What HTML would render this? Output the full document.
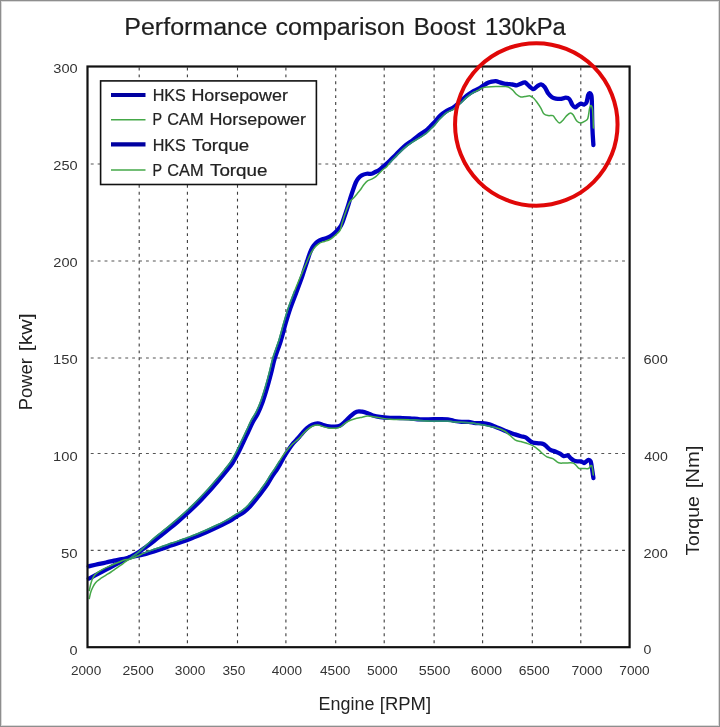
<!DOCTYPE html>
<html><head><meta charset="utf-8"><style>
html,body{margin:0;padding:0;background:#fff;}
body{width:720px;height:727px;overflow:hidden;}
svg{display:block;will-change:transform;}
text{font-family:"Liberation Sans",sans-serif;}
</style></head><body>
<svg width="720" height="727" viewBox="0 0 720 727">
<rect x="0" y="0" width="720" height="727" fill="#fff"/>
<rect x="0.5" y="0.5" width="719" height="726" fill="none" stroke="#8e8e8e" stroke-width="1"/>
<rect x="1.5" y="1.5" width="717" height="724" fill="none" stroke="#dadada" stroke-width="1"/>
<g stroke="#3a3a3a" stroke-width="1.1" stroke-dasharray="2.9,4.0" fill="none">
<line x1="139.2" y1="66.5" x2="139.2" y2="647.2" stroke="#3c3c3c" stroke-width="1.1" stroke-dashoffset="5.87"/>
<line x1="187.4" y1="66.5" x2="187.4" y2="647.2" stroke="#3c3c3c" stroke-width="1.1" stroke-dashoffset="5.87"/>
<line x1="237.5" y1="66.5" x2="237.5" y2="647.2" stroke="#3c3c3c" stroke-width="1.1" stroke-dashoffset="5.87"/>
<line x1="285.9" y1="66.5" x2="285.9" y2="647.2" stroke="#3c3c3c" stroke-width="1.1" stroke-dashoffset="5.87"/>
<line x1="335.7" y1="66.5" x2="335.7" y2="647.2" stroke="#3c3c3c" stroke-width="1.1" stroke-dashoffset="5.87"/>
<line x1="384.2" y1="66.5" x2="384.2" y2="647.2" stroke="#3c3c3c" stroke-width="1.1" stroke-dashoffset="5.87"/>
<line x1="434.1" y1="66.5" x2="434.1" y2="647.2" stroke="#3c3c3c" stroke-width="1.1" stroke-dashoffset="5.87"/>
<line x1="482.6" y1="66.5" x2="482.6" y2="647.2" stroke="#3c3c3c" stroke-width="1.1" stroke-dashoffset="5.87"/>
<line x1="532.3" y1="66.5" x2="532.3" y2="647.2" stroke="#3c3c3c" stroke-width="1.1" stroke-dashoffset="5.87"/>
<line x1="580.8" y1="66.5" x2="580.8" y2="647.2" stroke="#3c3c3c" stroke-width="1.1" stroke-dashoffset="5.87"/>
<line x1="87.5" y1="163.95" x2="629.6" y2="163.95" stroke="#555" stroke-width="1.15" stroke-dashoffset="3.65"/>
<line x1="87.5" y1="260.95" x2="629.6" y2="260.95" stroke="#555" stroke-width="1.15" stroke-dashoffset="3.65"/>
<line x1="87.5" y1="358.0" x2="629.6" y2="358.0" stroke="#555" stroke-width="1.15" stroke-dashoffset="3.65"/>
<line x1="87.5" y1="453.5" x2="629.6" y2="453.5" stroke="#555" stroke-width="1.15" stroke-dashoffset="3.65"/>
<line x1="87.5" y1="550.4" x2="629.6" y2="550.4" stroke="#555" stroke-width="1.15" stroke-dashoffset="3.65"/>
</g>
<g fill="none" stroke-linejoin="round" stroke-linecap="round">
<path d="M88.80,578.60 C89.08,578.47 88.97,578.58 90.50,577.80 C92.03,577.02 95.42,575.25 98.00,573.90 C100.58,572.55 103.33,571.12 106.00,569.70 C108.67,568.28 111.33,566.82 114.00,565.40 C116.67,563.98 119.33,562.60 122.00,561.20 C124.67,559.80 127.33,558.43 130.00,557.00 C132.67,555.57 135.33,554.27 138.00,552.60 C140.67,550.93 143.33,548.93 146.00,547.00 C148.67,545.07 151.33,543.07 154.00,541.00 C156.67,538.93 159.33,536.73 162.00,534.60 C164.67,532.47 167.33,530.38 170.00,528.20 C172.67,526.02 175.33,523.78 178.00,521.50 C180.67,519.22 183.33,516.92 186.00,514.50 C188.67,512.08 191.33,509.60 194.00,507.00 C196.67,504.40 199.33,501.67 202.00,498.90 C204.67,496.13 207.33,493.35 210.00,490.40 C212.67,487.45 215.33,484.35 218.00,481.20 C220.67,478.05 223.58,474.53 226.00,471.50 C228.42,468.47 230.50,466.05 232.50,463.00 C234.50,459.95 236.27,456.53 238.00,453.20 C239.73,449.87 241.25,446.45 242.90,443.00 C244.55,439.55 246.25,436.00 247.90,432.50 C249.55,429.00 251.15,425.17 252.80,422.00 C254.45,418.83 256.17,416.83 257.80,413.50 C259.43,410.17 261.03,406.33 262.60,402.00 C264.17,397.67 265.80,392.25 267.20,387.50 C268.60,382.75 269.77,378.25 271.00,373.50 C272.23,368.75 272.97,364.45 274.60,359.00 C276.23,353.55 278.97,346.72 280.80,340.80 C282.63,334.88 284.00,328.95 285.60,323.50 C287.20,318.05 288.63,313.23 290.40,308.10 C292.17,302.97 294.28,297.83 296.20,292.70 C298.12,287.57 300.56,281.08 301.90,277.30 C303.24,273.52 303.40,272.60 304.25,270.00 C305.10,267.40 306.07,264.48 307.00,261.70 C307.93,258.92 308.87,255.73 309.80,253.30 C310.73,250.87 311.67,248.72 312.60,247.10 C313.53,245.48 314.37,244.65 315.40,243.60 C316.43,242.55 317.65,241.50 318.80,240.80 C319.95,240.10 321.13,239.80 322.30,239.40 C323.47,239.00 324.64,238.80 325.80,238.40 C326.96,238.00 328.10,237.63 329.25,237.00 C330.40,236.37 331.54,235.52 332.70,234.60 C333.86,233.68 335.03,232.67 336.20,231.50 C337.37,230.33 338.73,228.93 339.70,227.60 C340.67,226.27 341.12,225.60 342.00,223.50 C342.88,221.40 343.95,218.08 345.00,215.00 C346.05,211.92 347.33,208.05 348.30,205.00 C349.27,201.95 349.97,199.33 350.80,196.70 C351.63,194.07 352.47,191.57 353.30,189.20 C354.13,186.83 354.97,184.32 355.80,182.50 C356.63,180.68 357.32,179.48 358.30,178.30 C359.28,177.12 360.30,176.16 361.70,175.40 C363.10,174.64 365.03,174.03 366.70,173.75 C368.37,173.47 370.18,174.09 371.70,173.75 C373.22,173.41 374.55,172.32 375.80,171.70 C377.05,171.07 377.95,170.87 379.20,170.00 C380.45,169.13 382.05,167.57 383.30,166.50 C384.55,165.43 385.58,164.58 386.70,163.60 C387.82,162.62 388.40,162.17 390.00,160.60 C391.60,159.03 393.92,156.58 396.30,154.20 C398.68,151.82 401.57,148.65 404.30,146.30 C407.03,143.95 409.92,142.18 412.70,140.10 C415.48,138.02 418.82,135.38 421.00,133.80 C423.18,132.22 424.30,131.78 425.80,130.60 C427.30,129.42 428.47,128.18 430.00,126.70 C431.53,125.22 433.33,123.52 435.00,121.70 C436.67,119.88 438.05,117.62 440.00,115.80 C441.95,113.98 444.48,112.18 446.70,110.80 C448.92,109.42 451.08,109.00 453.30,107.50 C455.52,106.00 457.77,103.78 460.00,101.80 C462.23,99.82 464.70,97.23 466.70,95.60 C468.70,93.97 470.62,92.87 472.00,92.00 C473.38,91.13 473.80,91.00 475.00,90.40 C476.20,89.80 477.82,89.20 479.20,88.40 C480.58,87.60 481.92,86.50 483.30,85.60 C484.68,84.70 486.10,83.65 487.50,83.00 C488.90,82.35 490.32,82.00 491.70,81.70 C493.08,81.40 494.42,81.08 495.80,81.20 C497.18,81.32 498.60,81.98 500.00,82.40 C501.40,82.82 502.82,83.42 504.20,83.70 C505.58,83.98 506.92,83.97 508.30,84.10 C509.68,84.23 511.10,84.30 512.50,84.50 C513.90,84.70 515.32,85.43 516.70,85.30 C518.08,85.17 519.42,84.18 520.80,83.70 C522.18,83.22 523.60,81.98 525.00,82.40 C526.40,82.82 527.82,85.07 529.20,86.20 C530.58,87.33 531.95,89.18 533.30,89.20 C534.65,89.22 536.02,87.10 537.30,86.30 C538.58,85.50 539.77,84.25 541.00,84.40 C542.23,84.55 543.48,85.67 544.70,87.20 C545.92,88.73 547.08,91.92 548.30,93.60 C549.52,95.28 550.77,96.47 552.00,97.30 C553.23,98.13 554.17,98.33 555.70,98.60 C557.23,98.87 559.52,99.05 561.20,98.90 C562.88,98.75 564.43,97.67 565.80,97.70 C567.17,97.73 568.33,97.95 569.40,99.10 C570.47,100.25 571.27,103.22 572.20,104.60 C573.13,105.98 574.08,107.25 575.00,107.40 C575.92,107.55 576.72,106.12 577.70,105.50 C578.68,104.88 579.83,103.85 580.90,103.70 C581.97,103.55 583.17,104.80 584.10,104.60 C585.03,104.40 585.82,104.10 586.50,102.50 C587.18,100.90 587.68,96.55 588.20,95.00 C588.72,93.45 589.13,93.28 589.60,93.20 C590.07,93.12 590.63,93.37 591.00,94.50 C591.37,95.63 591.57,94.42 591.80,100.00 C592.03,105.58 592.13,120.50 592.40,128.00 C592.67,135.50 593.23,142.17 593.40,145.00" stroke="#0000c2" stroke-width="4.3"/>
<path d="M88.80,566.40 C89.08,566.32 88.97,566.27 90.50,565.90 C92.03,565.53 95.42,564.77 98.00,564.20 C100.58,563.63 103.33,563.08 106.00,562.50 C108.67,561.92 111.33,561.25 114.00,560.70 C116.67,560.15 119.33,559.75 122.00,559.20 C124.67,558.65 127.33,558.00 130.00,557.40 C132.67,556.80 135.33,556.20 138.00,555.60 C140.67,555.00 143.33,554.48 146.00,553.80 C148.67,553.12 151.33,552.33 154.00,551.50 C156.67,550.67 159.33,549.75 162.00,548.80 C164.67,547.85 167.33,546.73 170.00,545.80 C172.67,544.87 175.33,544.10 178.00,543.20 C180.67,542.30 183.33,541.38 186.00,540.40 C188.67,539.42 191.33,538.35 194.00,537.30 C196.67,536.25 199.33,535.22 202.00,534.10 C204.67,532.98 207.33,531.80 210.00,530.60 C212.67,529.40 215.33,528.18 218.00,526.90 C220.67,525.62 223.67,524.12 226.00,522.90 C228.33,521.68 230.08,520.75 232.00,519.60 C233.92,518.45 235.50,517.27 237.50,516.00 C239.50,514.73 241.92,513.58 244.00,512.00 C246.08,510.42 247.68,509.00 250.00,506.50 C252.32,504.00 255.78,499.63 257.90,497.00 C260.02,494.37 261.10,492.87 262.70,490.70 C264.30,488.53 265.90,486.42 267.50,484.00 C269.10,481.58 270.68,478.70 272.30,476.20 C273.92,473.70 275.75,471.28 277.20,469.00 C278.65,466.72 279.72,464.75 281.00,462.50 C282.28,460.25 283.62,457.67 284.90,455.50 C286.18,453.33 287.30,451.55 288.70,449.50 C290.10,447.45 291.68,445.15 293.30,443.20 C294.92,441.25 296.92,439.47 298.40,437.80 C299.88,436.13 300.82,434.75 302.20,433.20 C303.58,431.65 305.03,429.93 306.70,428.50 C308.37,427.07 310.35,425.47 312.20,424.60 C314.05,423.73 315.95,423.23 317.80,423.30 C319.65,423.37 321.45,424.48 323.30,425.00 C325.15,425.52 327.05,426.12 328.90,426.40 C330.75,426.68 332.55,426.83 334.40,426.70 C336.25,426.57 338.13,426.53 340.00,425.60 C341.87,424.67 343.75,422.77 345.60,421.10 C347.45,419.43 349.25,417.17 351.10,415.60 C352.95,414.03 354.85,412.35 356.70,411.70 C358.55,411.05 360.35,411.43 362.20,411.70 C364.05,411.97 366.00,412.67 367.80,413.30 C369.60,413.93 370.97,414.88 373.00,415.50 C375.03,416.12 377.17,416.62 380.00,417.00 C382.83,417.38 386.67,417.63 390.00,417.80 C393.33,417.97 396.67,417.92 400.00,418.00 C403.33,418.08 406.67,418.08 410.00,418.30 C413.33,418.52 416.02,419.15 420.00,419.30 C423.98,419.45 429.27,419.20 433.90,419.20 C438.53,419.20 444.33,419.00 447.80,419.30 C451.27,419.60 452.38,420.57 454.70,421.00 C457.02,421.43 459.38,421.75 461.70,421.90 C464.02,422.05 466.28,421.70 468.60,421.90 C470.92,422.10 473.28,422.90 475.60,423.10 C477.92,423.30 480.20,422.88 482.50,423.10 C484.80,423.32 487.08,423.72 489.40,424.40 C491.72,425.08 494.08,426.27 496.40,427.20 C498.72,428.13 500.98,429.07 503.30,430.00 C505.62,430.93 508.35,432.07 510.30,432.80 C512.25,433.53 513.23,433.83 515.00,434.40 C516.77,434.97 519.13,435.70 520.90,436.20 C522.67,436.70 524.22,436.72 525.60,437.40 C526.98,438.08 528.02,439.45 529.20,440.30 C530.38,441.15 531.13,442.00 532.70,442.50 C534.27,443.00 536.83,443.07 538.60,443.30 C540.37,443.53 541.92,443.32 543.30,443.90 C544.68,444.48 545.72,445.82 546.90,446.80 C548.08,447.78 548.83,448.95 550.40,449.80 C551.97,450.65 554.70,451.27 556.30,451.90 C557.90,452.53 558.77,452.90 560.00,453.60 C561.23,454.30 562.37,455.78 563.70,456.10 C565.03,456.42 566.87,455.18 568.00,455.50 C569.13,455.82 569.57,457.18 570.50,458.00 C571.43,458.82 572.47,459.83 573.60,460.40 C574.73,460.97 576.07,461.23 577.30,461.40 C578.53,461.57 579.87,461.13 581.00,461.40 C582.13,461.67 583.27,462.95 584.10,463.00 C584.93,463.05 585.27,462.23 586.00,461.70 C586.73,461.17 587.73,459.88 588.50,459.80 C589.27,459.72 590.08,460.17 590.60,461.20 C591.12,462.23 591.13,463.20 591.60,466.00 C592.07,468.80 593.10,476.00 593.40,478.00" stroke="#0000c2" stroke-width="4.3"/>
<path d="M89.30,598.50 C89.50,597.58 90.05,594.58 90.50,593.00 C90.95,591.42 91.37,590.42 92.00,589.00 C92.63,587.58 93.47,585.80 94.30,584.50 C95.13,583.20 95.88,582.25 97.00,581.20 C98.12,580.15 99.50,579.22 101.00,578.20 C102.50,577.18 104.33,576.13 106.00,575.10 C107.67,574.07 109.50,572.98 111.00,572.00 C112.50,571.02 113.62,570.17 115.00,569.20 C116.38,568.23 117.97,567.13 119.30,566.20 C120.63,565.27 121.26,564.87 123.00,563.60 C124.74,562.33 127.35,560.31 129.73,558.57 C132.12,556.83 134.78,555.16 137.31,553.15 C139.83,551.15 142.36,548.81 144.88,546.54 C147.40,544.27 149.87,541.78 152.45,539.53 C155.04,537.27 157.74,535.15 160.40,533.00 C163.06,530.85 165.73,528.78 168.40,526.60 C171.07,524.42 173.73,522.18 176.40,519.90 C179.07,517.62 181.73,515.32 184.40,512.90 C187.07,510.48 189.73,508.00 192.40,505.40 C195.07,502.80 197.73,500.07 200.40,497.30 C203.07,494.53 205.73,491.75 208.40,488.80 C211.07,485.85 213.73,482.75 216.40,479.60 C219.07,476.45 221.98,472.93 224.40,469.90 C226.82,466.87 228.90,464.45 230.90,461.40 C232.90,458.35 234.67,454.93 236.40,451.60 C238.13,448.27 239.65,444.85 241.30,441.40 C242.95,437.95 244.65,434.40 246.30,430.90 C247.95,427.40 249.55,423.57 251.20,420.40 C252.85,417.23 254.57,415.23 256.20,411.90 C257.83,408.57 259.43,404.73 261.00,400.40 C262.57,396.07 264.20,390.65 265.60,385.90 C267.00,381.15 268.17,376.65 269.40,371.90 C270.63,367.15 271.37,362.85 273.00,357.40 C274.63,351.95 277.37,345.12 279.20,339.20 C281.03,333.28 282.40,327.35 284.00,321.90 C285.60,316.45 287.03,311.63 288.80,306.50 C290.57,301.37 292.63,296.13 294.60,291.10 C296.57,286.07 299.17,279.89 300.63,276.35 C302.10,272.81 302.39,272.16 303.39,269.85 C304.39,267.54 305.54,264.96 306.62,262.49 C307.71,260.02 308.84,257.20 309.91,255.05 C310.99,252.90 312.10,251.09 313.10,249.60 C314.10,248.11 314.87,247.15 315.90,246.10 C316.93,245.05 318.15,244.00 319.30,243.30 C320.45,242.60 321.63,242.30 322.80,241.90 C323.97,241.50 325.14,241.30 326.30,240.90 C327.46,240.50 328.60,240.13 329.75,239.50 C330.90,238.87 332.04,238.02 333.20,237.10 C334.36,236.18 335.53,235.17 336.70,234.00 C337.87,232.83 339.32,231.85 340.20,230.10 C341.08,228.35 341.07,226.57 342.00,223.50 C342.93,220.43 344.47,215.33 345.80,211.70 C347.13,208.07 348.75,203.93 350.00,201.70 C351.25,199.47 352.05,199.70 353.30,198.30 C354.55,196.90 356.25,194.82 357.50,193.30 C358.75,191.78 359.68,190.72 360.80,189.20 C361.92,187.68 363.08,185.60 364.20,184.20 C365.32,182.80 366.25,181.63 367.50,180.80 C368.75,179.97 370.32,179.88 371.70,179.20 C373.08,178.52 374.55,177.68 375.80,176.70 C377.05,175.72 377.95,174.55 379.20,173.30 C380.45,172.05 382.05,170.30 383.30,169.20 C384.55,168.10 385.58,167.83 386.70,166.70 C387.82,165.57 388.40,164.18 390.00,162.40 C391.60,160.62 393.92,158.38 396.30,156.00 C398.68,153.62 401.57,150.45 404.30,148.10 C407.03,145.75 409.92,143.78 412.70,141.90 C415.48,140.02 418.82,138.18 421.00,136.80 C423.18,135.42 424.30,134.78 425.80,133.60 C427.30,132.42 428.47,131.18 430.00,129.70 C431.53,128.22 433.33,126.52 435.00,124.70 C436.67,122.88 438.05,120.82 440.00,118.80 C441.95,116.78 444.48,114.18 446.70,112.60 C448.92,111.02 451.08,110.80 453.30,109.30 C455.52,107.80 457.77,105.58 460.00,103.60 C462.23,101.62 464.70,99.10 466.70,97.40 C468.70,95.70 470.62,94.33 472.00,93.40 C473.38,92.47 473.80,92.40 475.00,91.80 C476.20,91.20 478.45,90.20 479.20,89.80 C479.95,89.40 478.82,89.77 479.50,89.40 C480.18,89.03 481.97,88.00 483.30,87.60 C484.63,87.20 485.42,87.17 487.50,87.00 C489.58,86.83 493.02,86.67 495.80,86.60 C498.58,86.53 502.12,86.53 504.20,86.60 C506.28,86.67 506.92,86.45 508.30,87.00 C509.68,87.55 511.10,88.65 512.50,89.90 C513.90,91.15 515.32,93.32 516.70,94.50 C518.08,95.68 519.42,96.65 520.80,97.00 C522.18,97.35 523.47,96.78 525.00,96.60 C526.53,96.42 528.55,95.63 530.00,95.90 C531.45,96.17 532.48,97.05 533.70,98.20 C534.92,99.35 536.08,101.12 537.30,102.80 C538.52,104.48 539.92,106.47 541.00,108.30 C542.08,110.13 542.58,112.58 543.80,113.80 C545.02,115.02 546.78,115.30 548.30,115.60 C549.82,115.90 551.67,114.98 552.90,115.60 C554.13,116.22 554.62,118.07 555.70,119.30 C556.78,120.53 558.18,122.85 559.40,123.00 C560.62,123.15 561.78,121.43 563.00,120.20 C564.22,118.97 565.47,116.82 566.70,115.60 C567.93,114.38 569.33,113.05 570.40,112.90 C571.47,112.75 572.03,113.33 573.10,114.70 C574.17,116.07 575.57,119.72 576.80,121.10 C578.03,122.48 579.13,123.00 580.50,123.00 C581.87,123.00 583.78,121.87 585.00,121.10 C586.22,120.33 587.03,120.53 587.80,118.40 C588.57,116.27 589.07,110.45 589.60,108.30 C590.13,106.15 590.50,105.22 591.00,105.50 C591.50,105.78 592.20,106.25 592.60,110.00 C593.00,113.75 593.27,125.00 593.40,128.00" stroke="#45a848" stroke-width="1.5"/>
<path d="M89.30,590.50 C89.50,589.58 90.05,586.75 90.50,585.00 C90.95,583.25 91.37,581.58 92.00,580.00 C92.63,578.42 93.47,576.70 94.30,575.50 C95.13,574.30 95.60,573.83 97.00,572.80 C98.40,571.77 100.37,570.52 102.70,569.30 C105.03,568.08 108.23,566.72 111.00,565.50 C113.77,564.28 116.97,562.95 119.30,562.00 C121.63,561.05 123.22,560.27 125.00,559.80 C126.78,559.33 127.94,559.83 130.00,559.20 C132.06,558.57 134.91,557.09 137.36,556.04 C139.81,554.99 142.21,553.90 144.72,552.88 C147.23,551.86 149.79,550.85 152.40,549.90 C155.01,548.95 157.73,548.15 160.40,547.20 C163.07,546.25 165.73,545.13 168.40,544.20 C171.07,543.27 173.73,542.50 176.40,541.60 C179.07,540.70 181.73,539.78 184.40,538.80 C187.07,537.82 189.73,536.75 192.40,535.70 C195.07,534.65 197.73,533.62 200.40,532.50 C203.07,531.38 205.73,530.20 208.40,529.00 C211.07,527.80 213.73,526.58 216.40,525.30 C219.07,524.02 222.07,522.52 224.40,521.30 C226.73,520.08 228.48,519.15 230.40,518.00 C232.32,516.85 233.90,515.67 235.90,514.40 C237.90,513.13 240.32,511.98 242.40,510.40 C244.48,508.82 246.08,507.40 248.40,504.90 C250.72,502.40 254.18,498.03 256.30,495.40 C258.42,492.77 259.50,491.27 261.10,489.10 C262.70,486.93 264.30,484.82 265.90,482.40 C267.50,479.98 269.08,477.10 270.70,474.60 C272.32,472.10 274.14,469.66 275.60,467.40 C277.06,465.14 278.13,463.18 279.48,461.06 C280.83,458.94 282.31,456.65 283.69,454.68 C285.08,452.72 286.28,451.12 287.80,449.29 C289.31,447.47 291.02,445.42 292.76,443.73 C294.51,442.04 296.70,440.63 298.27,439.14 C299.84,437.66 300.80,436.31 302.20,434.80 C303.60,433.29 305.03,431.53 306.70,430.10 C308.37,428.67 310.35,427.07 312.20,426.20 C314.05,425.33 315.95,424.83 317.80,424.90 C319.65,424.97 321.45,426.08 323.30,426.60 C325.15,427.12 327.05,427.72 328.90,428.00 C330.75,428.28 332.55,428.43 334.40,428.30 C336.25,428.17 338.13,428.12 340.00,427.20 C341.87,426.28 343.75,424.00 345.60,422.80 C347.45,421.60 349.25,420.75 351.10,420.00 C352.95,419.25 354.85,418.77 356.70,418.30 C358.55,417.83 360.35,417.57 362.20,417.20 C364.05,416.83 365.17,416.05 367.80,416.10 C370.43,416.15 374.30,416.97 378.00,417.50 C381.70,418.03 384.67,418.92 390.00,419.30 C395.33,419.68 403.17,419.48 410.00,419.80 C416.83,420.12 424.70,420.95 431.00,421.20 C437.30,421.45 443.80,421.17 447.80,421.30 C451.80,421.43 450.47,421.63 455.00,422.00 C459.53,422.37 468.33,422.58 475.00,423.50 C481.67,424.42 490.00,426.21 495.00,427.50 C500.00,428.79 501.67,429.20 505.00,431.25 C508.33,433.30 512.35,438.09 515.00,439.80 C517.65,441.51 518.93,440.92 520.90,441.50 C522.87,442.08 524.83,442.60 526.80,443.30 C528.77,444.00 530.73,444.62 532.70,445.70 C534.67,446.78 537.02,448.53 538.60,449.80 C540.18,451.07 540.82,452.12 542.20,453.30 C543.58,454.48 545.13,456.02 546.90,456.90 C548.67,457.78 550.83,457.62 552.80,458.60 C554.77,459.58 556.73,462.07 558.70,462.80 C560.67,463.53 562.23,462.97 564.60,463.00 C566.97,463.03 570.93,462.55 572.90,463.00 C574.87,463.45 575.33,464.78 576.40,465.70 C577.47,466.62 578.12,468.03 579.30,468.50 C580.48,468.97 581.97,468.50 583.50,468.50 C585.03,468.50 587.25,469.00 588.50,468.50 C589.75,468.00 590.38,465.75 591.00,465.50 C591.62,465.25 591.82,465.42 592.20,467.00 C592.58,468.58 593.12,473.67 593.30,475.00" stroke="#45a848" stroke-width="1.5"/>
<path d="M129.73,558.57 C131.00,557.66 134.78,555.16 137.31,553.15 C139.83,551.15 142.36,548.81 144.88,546.54 C147.40,544.27 149.87,541.78 152.45,539.53 C155.04,537.27 157.74,535.15 160.40,533.00 C163.06,530.85 165.73,528.78 168.40,526.60 C171.07,524.42 173.73,522.18 176.40,519.90 C179.07,517.62 181.73,515.32 184.40,512.90 C187.07,510.48 189.73,508.00 192.40,505.40 C195.07,502.80 197.73,500.07 200.40,497.30 C203.07,494.53 205.73,491.75 208.40,488.80 C211.07,485.85 213.73,482.75 216.40,479.60 C219.07,476.45 221.98,472.93 224.40,469.90 C226.82,466.87 228.90,464.45 230.90,461.40 C232.90,458.35 234.67,454.93 236.40,451.60 C238.13,448.27 239.65,444.85 241.30,441.40 C242.95,437.95 244.65,434.40 246.30,430.90 C247.95,427.40 249.55,423.57 251.20,420.40 C252.85,417.23 254.57,415.23 256.20,411.90 C257.83,408.57 259.43,404.73 261.00,400.40 C262.57,396.07 264.20,390.65 265.60,385.90 C267.00,381.15 268.17,376.65 269.40,371.90 C270.63,367.15 271.37,362.85 273.00,357.40 C274.63,351.95 277.37,345.12 279.20,339.20 C281.03,333.28 282.40,327.35 284.00,321.90 C285.60,316.45 287.03,311.63 288.80,306.50 C290.57,301.37 293.63,293.67 294.60,291.10" stroke="#2a8a78" stroke-width="1.5"/>
<path d="M144.72,552.88 C146.00,552.38 149.79,550.85 152.40,549.90 C155.01,548.95 157.73,548.15 160.40,547.20 C163.07,546.25 165.73,545.13 168.40,544.20 C171.07,543.27 173.73,542.50 176.40,541.60 C179.07,540.70 181.73,539.78 184.40,538.80 C187.07,537.82 189.73,536.75 192.40,535.70 C195.07,534.65 197.73,533.62 200.40,532.50 C203.07,531.38 205.73,530.20 208.40,529.00 C211.07,527.80 213.73,526.58 216.40,525.30 C219.07,524.02 222.07,522.52 224.40,521.30 C226.73,520.08 228.48,519.15 230.40,518.00 C232.32,516.85 233.90,515.67 235.90,514.40 C237.90,513.13 240.32,511.98 242.40,510.40 C244.48,508.82 246.08,507.40 248.40,504.90 C250.72,502.40 254.18,498.03 256.30,495.40 C258.42,492.77 259.50,491.27 261.10,489.10 C262.70,486.93 264.30,484.82 265.90,482.40 C267.50,479.98 269.08,477.10 270.70,474.60 C272.32,472.10 274.14,469.66 275.60,467.40 C277.06,465.14 278.83,462.12 279.48,461.06" stroke="#2a8a78" stroke-width="1.5"/>
<path d="M410.00,419.80 C413.50,420.03 424.70,420.95 431.00,421.20 C437.30,421.45 443.80,421.17 447.80,421.30 C451.80,421.43 450.47,421.63 455.00,422.00 C459.53,422.37 468.33,422.58 475.00,423.50 C481.67,424.42 491.67,426.83 495.00,427.50" stroke="#2a8a78" stroke-width="1.5"/>
<path d="M390.00,162.40 C391.05,161.33 393.92,158.38 396.30,156.00 C398.68,153.62 401.57,150.45 404.30,148.10 C407.03,145.75 409.92,143.78 412.70,141.90 C415.48,140.02 418.82,138.18 421.00,136.80 C423.18,135.42 424.30,134.78 425.80,133.60 C427.30,132.42 428.47,131.18 430.00,129.70 C431.53,128.22 433.33,126.52 435.00,124.70 C436.67,122.88 438.05,120.82 440.00,118.80 C441.95,116.78 444.48,114.18 446.70,112.60 C448.92,111.02 451.08,110.80 453.30,109.30 C455.52,107.80 457.77,105.58 460.00,103.60 C462.23,101.62 464.70,99.10 466.70,97.40 C468.70,95.70 470.62,94.33 472.00,93.40 C473.38,92.47 474.50,92.07 475.00,91.80" stroke="#2a8a78" stroke-width="1.5"/>
</g>
<rect x="87.5" y="66.5" width="542.1" height="580.7" fill="none" stroke="#111" stroke-width="2.2"/>
<rect x="100.6" y="80.9" width="215.8" height="103.6" fill="#fff" stroke="#111" stroke-width="1.6"/>
<line x1="111" y1="95" x2="145.5" y2="95" stroke="#0000a0" stroke-width="4.2"/>
<line x1="111" y1="119.8" x2="145.5" y2="119.8" stroke="#45a848" stroke-width="1.5"/>
<line x1="111" y1="144.4" x2="145.5" y2="144.4" stroke="#0000a0" stroke-width="4.2"/>
<line x1="111" y1="170" x2="145.5" y2="170" stroke="#45a848" stroke-width="1.5"/>
<text x="124.31" y="34.5" textLength="143.08" lengthAdjust="spacingAndGlyphs" style="font-size:23.0px" fill="#1e1e1e" stroke="#1e1e1e" stroke-width="0.2">Performance</text>
<text x="275.51" y="34.5" textLength="129.32" lengthAdjust="spacingAndGlyphs" style="font-size:23.0px" fill="#1e1e1e" stroke="#1e1e1e" stroke-width="0.2">comparison</text>
<text x="413.78" y="34.5" textLength="61.71" lengthAdjust="spacingAndGlyphs" style="font-size:23.0px" fill="#1e1e1e" stroke="#1e1e1e" stroke-width="0.2">Boost</text>
<text x="484.99" y="34.5" textLength="80.84" lengthAdjust="spacingAndGlyphs" style="font-size:23.0px" fill="#1e1e1e" stroke="#1e1e1e" stroke-width="0.2">130kPa</text>
<text x="152.64" y="100.8" textLength="33.11" lengthAdjust="spacingAndGlyphs" style="font-size:16.3px" fill="#222" stroke="#222" stroke-width="0.22">HKS</text>
<text x="191.43" y="100.8" textLength="96.50" lengthAdjust="spacingAndGlyphs" style="font-size:16.3px" fill="#222" stroke="#222" stroke-width="0.22">Horsepower</text>
<text x="152.54" y="125.2" textLength="9.59" lengthAdjust="spacingAndGlyphs" style="font-size:16.3px" fill="#222" stroke="#222" stroke-width="0.22">P</text>
<text x="167.30" y="125.2" textLength="36.21" lengthAdjust="spacingAndGlyphs" style="font-size:16.3px" fill="#222" stroke="#222" stroke-width="0.22">CAM</text>
<text x="209.43" y="125.2" textLength="96.60" lengthAdjust="spacingAndGlyphs" style="font-size:16.3px" fill="#222" stroke="#222" stroke-width="0.22">Horsepower</text>
<text x="152.64" y="150.6" textLength="33.11" lengthAdjust="spacingAndGlyphs" style="font-size:16.3px" fill="#222" stroke="#222" stroke-width="0.22">HKS</text>
<text x="192.04" y="150.6" textLength="57.21" lengthAdjust="spacingAndGlyphs" style="font-size:16.3px" fill="#222" stroke="#222" stroke-width="0.22">Torque</text>
<text x="152.54" y="175.9" textLength="9.59" lengthAdjust="spacingAndGlyphs" style="font-size:16.3px" fill="#222" stroke="#222" stroke-width="0.22">P</text>
<text x="167.30" y="175.9" textLength="36.21" lengthAdjust="spacingAndGlyphs" style="font-size:16.3px" fill="#222" stroke="#222" stroke-width="0.22">CAM</text>
<text x="210.04" y="175.9" textLength="57.41" lengthAdjust="spacingAndGlyphs" style="font-size:16.3px" fill="#222" stroke="#222" stroke-width="0.22">Torque</text>
<text x="318.58" y="709.9" textLength="55.79" lengthAdjust="spacingAndGlyphs" style="font-size:17.5px" fill="#222">Engine</text>
<text x="379.89" y="709.9" textLength="51.15" lengthAdjust="spacingAndGlyphs" style="font-size:17.5px" fill="#222">[RPM]</text>
<text transform="translate(31.6,409.3) rotate(-90)" x="-1.05" y="0" textLength="52.28" lengthAdjust="spacingAndGlyphs" style="font-size:17.5px" fill="#222">Power</text>
<text transform="translate(31.6,350.1) rotate(-90)" x="-1.18" y="0" textLength="38.01" lengthAdjust="spacingAndGlyphs" style="font-size:17.5px" fill="#222">[kw]</text>
<text transform="translate(698.7,555.1) rotate(-90)" x="-0.49" y="0" textLength="59.31" lengthAdjust="spacingAndGlyphs" style="font-size:17.5px" fill="#222">Torque</text>
<text transform="translate(698.7,487.2) rotate(-90)" x="-1.11" y="0" textLength="42.68" lengthAdjust="spacingAndGlyphs" style="font-size:17.5px" fill="#222">[Nm]</text>
<text x="71.00" y="675.4" textLength="30.19" lengthAdjust="spacingAndGlyphs" style="font-size:12.8px" fill="#333">2000</text>
<text x="122.58" y="675.4" textLength="31.13" lengthAdjust="spacingAndGlyphs" style="font-size:12.8px" fill="#333">2500</text>
<text x="174.81" y="675.4" textLength="30.48" lengthAdjust="spacingAndGlyphs" style="font-size:12.8px" fill="#333">3000</text>
<text x="222.52" y="675.4" textLength="22.76" lengthAdjust="spacingAndGlyphs" style="font-size:12.8px" fill="#333">350</text>
<text x="271.83" y="675.4" textLength="30.16" lengthAdjust="spacingAndGlyphs" style="font-size:12.8px" fill="#333">4000</text>
<text x="320.03" y="675.4" textLength="30.36" lengthAdjust="spacingAndGlyphs" style="font-size:12.8px" fill="#333">4500</text>
<text x="366.97" y="675.4" textLength="30.73" lengthAdjust="spacingAndGlyphs" style="font-size:12.8px" fill="#333">5000</text>
<text x="418.75" y="675.4" textLength="31.66" lengthAdjust="spacingAndGlyphs" style="font-size:12.8px" fill="#333">5500</text>
<text x="470.85" y="675.4" textLength="31.15" lengthAdjust="spacingAndGlyphs" style="font-size:12.8px" fill="#333">6000</text>
<text x="518.86" y="675.4" textLength="30.84" lengthAdjust="spacingAndGlyphs" style="font-size:12.8px" fill="#333">6500</text>
<text x="571.48" y="675.4" textLength="31.13" lengthAdjust="spacingAndGlyphs" style="font-size:12.8px" fill="#333">7000</text>
<text x="619.29" y="675.4" textLength="30.40" lengthAdjust="spacingAndGlyphs" style="font-size:12.8px" fill="#333">7000</text>
<text x="53.26" y="72.9" textLength="24.43" lengthAdjust="spacingAndGlyphs" style="font-size:12.8px" fill="#333">300</text>
<text x="53.34" y="170.2" textLength="24.35" lengthAdjust="spacingAndGlyphs" style="font-size:12.8px" fill="#333">250</text>
<text x="53.34" y="266.7" textLength="24.35" lengthAdjust="spacingAndGlyphs" style="font-size:12.8px" fill="#333">200</text>
<text x="53.08" y="363.7" textLength="24.61" lengthAdjust="spacingAndGlyphs" style="font-size:12.8px" fill="#333">150</text>
<text x="53.08" y="460.8" textLength="24.61" lengthAdjust="spacingAndGlyphs" style="font-size:12.8px" fill="#333">100</text>
<text x="61.00" y="557.8" textLength="16.65" lengthAdjust="spacingAndGlyphs" style="font-size:12.8px" fill="#333">50</text>
<text x="69.45" y="654.5" textLength="8.07" lengthAdjust="spacingAndGlyphs" style="font-size:12.8px" fill="#333">0</text>
<text x="643.42" y="364.2" textLength="24.37" lengthAdjust="spacingAndGlyphs" style="font-size:12.8px" fill="#333">600</text>
<text x="644.23" y="460.8" textLength="23.55" lengthAdjust="spacingAndGlyphs" style="font-size:12.8px" fill="#333">400</text>
<text x="643.44" y="557.75" textLength="24.35" lengthAdjust="spacingAndGlyphs" style="font-size:12.8px" fill="#333">200</text>
<text x="643.56" y="654.4" textLength="7.85" lengthAdjust="spacingAndGlyphs" style="font-size:12.8px" fill="#333">0</text>
<circle cx="536.3" cy="124.4" r="81.25" fill="none" stroke="#e00808" stroke-width="4.0"/>
</svg>
</body></html>
